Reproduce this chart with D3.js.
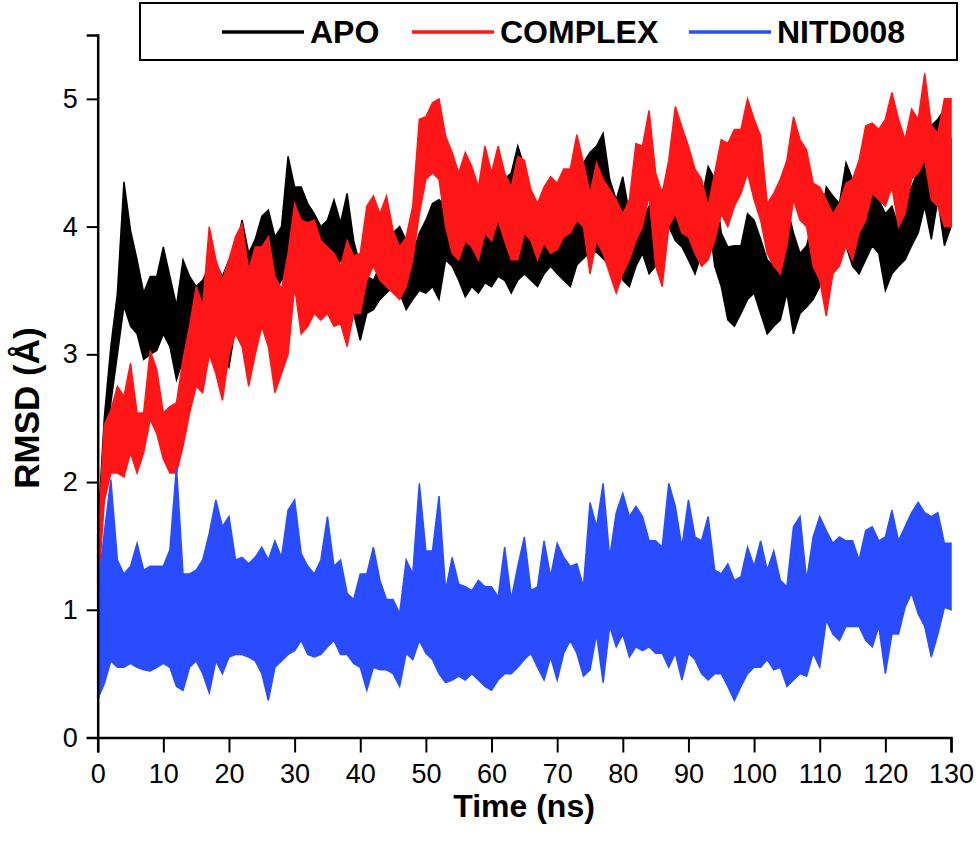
<!DOCTYPE html>
<html>
<head>
<meta charset="utf-8">
<script src="https://cdn.jsdelivr.net/npm/d3@7"></script>
<style>
  html, body { margin: 0; padding: 0; background: #fff; }
  svg { display: block; font-family: "Liberation Sans", Arial, sans-serif; }
</style>
</head>
<body>
<div id="chart"></div>
<script>
// time grid, 1 ns bins (0..130 ns)
var timeNs = d3.range(0, 131);

// per-bin upper / lower envelope of each trace (Å)
var apoHi = [1.6, 2.5, 3.06, 3.48, 4.35, 3.97, 3.74, 3.48, 3.61, 3.61,
  3.84, 3.61, 3.38, 3.74, 3.61, 3.53, 3.58, 3.69, 3.71, 3.61,
  3.74, 3.82, 4.05, 3.79, 3.9, 4.08, 4.13, 3.92, 4.0, 4.55,
  4.31, 4.31, 4.18, 4.1, 4.0, 4.05, 4.21, 4.03, 4.26, 3.89,
  3.69, 3.61, 3.58, 3.69, 3.79, 3.95, 4.0, 3.89, 3.79, 3.95,
  4.05, 4.18, 4.21, 4.16, 4.05, 4.4, 4.05, 4.0, 4.03, 4.0,
  4.05, 4.16, 4.37, 4.42, 4.63, 4.47, 4.16, 4.1, 4.0, 4.03,
  3.97, 3.95, 4.1, 4.26, 4.5, 4.58, 4.63, 4.73, 4.37, 4.21,
  4.39, 4.1, 4.16, 4.05, 4.16, 4.21, 4.29, 4.31, 4.29, 4.16,
  4.1, 4.05, 4.21, 4.47, 4.37, 3.95, 3.84, 3.85, 3.85, 4.1,
  4.05, 3.9, 3.74, 3.69, 3.95, 4.16, 3.95, 3.79, 3.85, 4.05,
  4.0, 4.31, 4.24, 4.18, 4.5, 4.37, 4.26, 4.21, 4.26, 4.21,
  4.1, 4.16, 4.0, 4.21, 4.31, 4.44, 4.63, 4.79, 4.84, 4.92, 4.68];
var apoLo = [1.2, 1.9, 2.62, 3.0, 3.38, 3.22, 3.16, 2.96, 3.0, 3.03,
  3.16, 3.06, 2.8, 2.96, 3.14, 3.22, 3.27, 3.11, 2.88, 3.0,
  2.9, 3.22, 3.27, 3.48, 3.38, 3.53, 3.53, 3.48, 3.58, 3.66,
  3.84, 3.79, 3.74, 3.7, 3.6, 3.6, 3.6, 3.74, 3.69, 3.32,
  3.11, 3.32, 3.35, 3.43, 3.48, 3.53, 3.48, 3.35, 3.43, 3.5,
  3.48, 3.53, 3.43, 3.74, 3.69, 3.58, 3.45, 3.53, 3.48, 3.56,
  3.53, 3.61, 3.58, 3.48, 3.58, 3.63, 3.58, 3.53, 3.63, 3.69,
  3.63, 3.58, 3.53, 3.7, 3.75, 3.8, 3.8, 3.75, 3.69, 3.89,
  3.58, 3.53, 3.69, 3.79, 3.63, 3.69, 3.84, 4.0, 3.89, 3.84,
  3.74, 3.63, 3.79, 4.1, 3.69, 3.53, 3.27, 3.22, 3.32, 3.43,
  3.48, 3.32, 3.16, 3.22, 3.27, 3.48, 3.16, 3.32, 3.37, 3.43,
  3.53, 3.63, 3.69, 3.74, 3.85, 3.69, 3.63, 3.74, 3.85, 3.79,
  3.5, 3.63, 3.69, 3.74, 3.85, 3.95, 4.16, 3.9, 4.21, 3.85, 4.0];

var complexHi = [1.5, 2.45, 2.56, 2.75, 2.67, 2.93, 2.54, 2.54, 3.03, 2.88,
  2.54, 2.59, 2.62, 2.96, 3.22, 3.53, 3.38, 4.0, 3.74, 3.58,
  3.74, 3.92, 4.02, 3.66, 3.84, 3.84, 3.92, 3.61, 3.51, 3.79,
  4.18, 4.05, 4.03, 4.05, 3.89, 3.84, 3.79, 3.69, 3.89, 3.77,
  3.79, 4.16, 4.24, 4.1, 4.24, 3.97, 3.84, 3.92, 4.16, 4.84,
  4.86, 4.97, 5.0, 4.71, 4.58, 4.42, 4.58, 4.47, 4.31, 4.63,
  4.42, 4.63, 4.42, 4.31, 4.55, 4.52, 4.29, 4.18, 4.31, 4.39,
  4.34, 4.45, 4.45, 4.72, 4.5, 4.26, 4.5, 4.37, 4.29, 4.21,
  4.1, 4.21, 4.65, 4.63, 4.91, 4.42, 4.26, 4.52, 4.94, 4.78,
  4.63, 4.45, 4.37, 4.16, 4.42, 4.68, 4.65, 4.76, 4.76, 5.0,
  4.84, 4.71, 4.18, 4.26, 4.37, 4.52, 4.86, 4.68, 4.6, 4.34,
  4.31, 4.21, 4.1, 4.18, 4.34, 4.37, 4.52, 4.79, 4.81, 4.76,
  4.84, 5.05, 4.84, 4.68, 4.92, 4.84, 5.2, 4.79, 4.73, 5.0, 5.0];
var complexLo = [1.1, 1.85, 2.07, 2.07, 2.04, 2.23, 2.07, 2.23, 2.49, 2.38,
  2.18, 2.07, 2.07, 2.28, 2.54, 2.75, 2.7, 3.0, 2.85, 2.64,
  3.0, 3.16, 3.06, 2.75, 3.0, 3.22, 3.06, 2.7, 2.85, 3.0,
  3.53, 3.16, 3.22, 3.32, 3.27, 3.32, 3.22, 3.24, 3.06, 3.32,
  3.32, 3.58, 3.69, 3.58, 3.53, 3.48, 3.43, 3.53, 3.74, 4.1,
  4.37, 4.42, 4.37, 4.0, 3.79, 3.74, 3.89, 3.84, 3.74, 3.95,
  3.89, 4.05, 3.89, 3.74, 3.74, 3.95, 3.89, 3.74, 3.87, 3.79,
  3.82, 3.92, 3.95, 4.05, 4.0, 3.63, 3.89, 3.79, 3.63, 3.48,
  3.63, 3.74, 3.89, 4.0, 4.24, 3.69, 3.53, 4.0, 4.1, 3.95,
  3.92, 3.79, 3.69, 3.74, 3.89, 4.1, 4.0, 4.16, 4.26, 4.42,
  4.21, 4.05, 3.79, 3.69, 3.63, 3.85, 4.21, 4.05, 4.0, 3.69,
  3.58, 3.3, 3.63, 3.69, 3.85, 3.74, 3.95, 4.05, 4.26, 4.21,
  4.16, 4.31, 4.0, 4.1, 4.37, 4.42, 4.52, 4.21, 4.16, 4.0, 4.0];

var nitdHi = [1.15, 1.6, 2.02, 1.39, 1.28, 1.34, 1.52, 1.31, 1.34, 1.34,
  1.34, 1.47, 2.12, 1.28, 1.28, 1.31, 1.39, 1.6, 1.86, 1.65,
  1.73, 1.39, 1.41, 1.36, 1.41, 1.49, 1.39, 1.54, 1.41, 1.78,
  1.86, 1.44, 1.34, 1.28, 1.39, 1.73, 1.34, 1.39, 1.13, 1.08,
  1.28, 1.28, 1.49, 1.23, 1.08, 1.08, 0.97, 1.39, 1.28, 1.99,
  1.46, 1.46, 1.89, 1.15, 1.41, 1.2, 1.18, 1.15, 1.23, 1.18,
  1.18, 1.1, 1.49, 1.08, 1.34, 1.57, 1.15, 1.18, 1.54, 1.26,
  1.52, 1.41, 1.34, 1.36, 1.18, 1.84, 1.65, 1.99, 1.41, 1.76,
  1.91, 1.73, 1.81, 1.73, 1.54, 1.54, 1.49, 1.99, 1.81, 1.49,
  1.86, 1.57, 1.54, 1.73, 1.31, 1.28, 1.36, 1.23, 1.26, 1.49,
  1.34, 1.54, 1.31, 1.46, 1.23, 1.18, 1.65, 1.73, 1.23, 1.57,
  1.73, 1.62, 1.52, 1.57, 1.54, 1.54, 1.39, 1.62, 1.65, 1.54,
  1.57, 1.78, 1.54, 1.65, 1.76, 1.84, 1.76, 1.73, 1.76, 1.52, 1.52];
var nitdLo = [0.3, 0.42, 0.6, 0.55, 0.55, 0.58, 0.55, 0.53, 0.52, 0.55,
  0.58, 0.55, 0.4, 0.37, 0.55, 0.6, 0.5, 0.35, 0.6, 0.5,
  0.63, 0.65, 0.65, 0.63, 0.6, 0.5, 0.29, 0.55, 0.6, 0.65,
  0.68, 0.76, 0.65, 0.63, 0.65, 0.71, 0.76, 0.65, 0.65, 0.58,
  0.55, 0.37, 0.55, 0.53, 0.53, 0.5, 0.4, 0.66, 0.61, 0.76,
  0.66, 0.61, 0.5, 0.43, 0.45, 0.48, 0.45, 0.5, 0.45, 0.4,
  0.37, 0.45, 0.5, 0.5, 0.55, 0.61, 0.66, 0.55, 0.45, 0.63,
  0.45, 0.66, 0.76, 0.66, 0.48, 0.53, 0.81, 0.43, 0.87, 0.71,
  0.81, 0.63, 0.71, 0.68, 0.71, 0.66, 0.66, 0.55, 0.66, 0.45,
  0.66, 0.61, 0.5, 0.45, 0.5, 0.5, 0.4, 0.29, 0.4, 0.5,
  0.55, 0.55, 0.61, 0.53, 0.55, 0.4, 0.45, 0.5, 0.48, 0.66,
  0.55, 0.92, 0.81, 0.76, 0.87, 0.87, 0.87, 0.76, 0.71, 0.87,
  0.5, 0.81, 0.81, 1.02, 1.13, 0.97, 0.87, 0.63, 0.81, 1.02, 1.0];

var seriesNames = ["APO", "COMPLEX", "NITD008"];
var seriesColors = ["#000000", "#ff1616", "#2a4cff"];
var yTicks = [0, 1, 2, 3, 4, 5];
var xTicks = d3.range(0, 131, 10);

var series = [
  { name: seriesNames[0], color: seriesColors[0], hi: apoHi, lo: apoLo },
  { name: seriesNames[1], color: seriesColors[1], hi: complexHi, lo: complexLo },
  { name: seriesNames[2], color: seriesColors[2], hi: nitdHi, lo: nitdLo }
];

var width = 980, height = 860;
var svg = d3.select("#chart").append("svg")
  .attr("width", width)
  .attr("height", height);

var x = d3.scaleLinear().domain([0, 130]).range([97.7, 951]);
var y = d3.scaleLinear().domain([0, 5.5]).range([737.5, 35]);

// traces: band between the lower and upper envelope of each bin
var area = function (s) {
  return d3.area()
    .x(function (d, i) { return x(timeNs[i]); })
    .y0(function (d, i) { return y(s.lo[i]); })
    .y1(function (d, i) { return y(s.hi[i]); });
};
var traces = svg.append("g").attr("class", "traces");
series.forEach(function (s) {
  traces.append("path")
    .datum(timeNs)
    .attr("d", area(s))
    .style("fill", s.color)
    .style("stroke", s.color)
    .style("stroke-width", 1.5)
    .style("stroke-linejoin", "miter");
});

// axes
var xAxis = svg.append("g").attr("transform", "translate(0," + y(0) + ")");
xAxis.call(d3.axisBottom(x).tickValues(d3.range(5, 130, 10)).tickSize(8).tickFormat(""));
xAxis.call(d3.axisBottom(x).tickValues(xTicks).tickSize(15).tickPadding(11)
  .tickFormat(d3.format("d")));

var yAxis = svg.append("g").attr("transform", "translate(" + x(0) + ",0)");
yAxis.call(d3.axisLeft(y).tickValues([0.5, 1.5, 2.5, 3.5, 4.5, 5.5]).tickSize(6).tickFormat(""));
yAxis.call(d3.axisLeft(y).tickValues(yTicks).tickSize(11).tickPadding(9)
  .tickFormat(d3.format("d")));

svg.selectAll(".domain").style("stroke", "#000").style("stroke-width", 2.5);
svg.selectAll(".tick line").style("stroke", "#000").style("stroke-width", 2);
svg.selectAll(".tick text")
  .style("font-size", "27px")
  .style("font-family", "'Liberation Sans', Arial, sans-serif")
  .style("fill", "#000");

// axis titles
svg.append("text")
  .attr("x", 524).attr("y", 817)
  .attr("text-anchor", "middle")
  .style("font-size", "32px").style("font-weight", "bold")
  .text("Time (ns)");
svg.append("text")
  .attr("transform", "translate(39,408) rotate(-90)")
  .attr("text-anchor", "middle")
  .style("font-size", "35px").style("font-weight", "bold")
  .text("RMSD (Å)");

// legend
var legend = svg.append("g").attr("class", "legend");
legend.append("rect")
  .attr("x", 140).attr("y", 3).attr("width", 817).attr("height", 57)
  .style("fill", "#fff").style("stroke", "#000").style("stroke-width", 2);
var legendX = [222, 412, 689];
series.forEach(function (s, i) {
  legend.append("line")
    .attr("x1", legendX[i]).attr("x2", legendX[i] + 82)
    .attr("y1", 32).attr("y2", 32)
    .style("stroke", s.color).style("stroke-width", 3.5);
  legend.append("text")
    .attr("x", legendX[i] + 88).attr("y", 43)
    .style("font-size", "32px").style("font-weight", "bold")
    .text(s.name);
});
</script>
</body>
</html>
